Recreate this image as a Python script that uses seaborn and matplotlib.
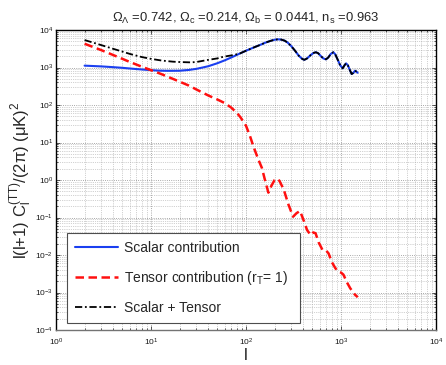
import numpy as np
import pandas as pd
import matplotlib
matplotlib.use('Agg')
import matplotlib.pyplot as plt
import seaborn as sns
from matplotlib.ticker import FixedLocator, NullFormatter

# valeurs : multipoles l et l(l+1)C_l/2pi en (muK)^2
scalar_l = [2, 3, 4, 5, 6, 8, 10, 12, 15, 20, 25, 30, 35, 40, 50, 60, 70, 87,
            100, 120, 140, 160, 180, 200, 217, 235, 255, 275, 300, 330, 360,
            390, 411, 440, 480, 515, 545, 575, 610, 650, 695, 735, 780, 830,
            870, 920, 980, 1042, 1090, 1130, 1180, 1240, 1295, 1350, 1403,
            1450, 1497]
scalar_cl = [1120, 1070, 1020, 980, 940, 885, 850, 825, 815, 820, 860, 920,
             1000, 1080, 1300, 1560, 1850, 2390, 2800, 3400, 3980, 4600, 5100,
             5500, 5650, 5550, 5200, 4600, 3700, 2750, 2050, 1700, 1600, 1750,
             2150, 2450, 2550, 2400, 2050, 1750, 1650, 1850, 2300, 2550, 2250,
             1650, 1150, 950, 1150, 1290, 1150, 850, 670, 720, 820, 780, 725]

tensor_l = [2, 3, 4, 5, 6, 8, 10, 13, 16, 20, 25, 30, 40, 50, 60, 70, 80, 87,
            100, 110, 120, 135, 147, 160, 172, 185, 200, 212, 225, 250, 280,
            313, 340, 370, 400, 440, 480, 510, 540, 580, 640, 700, 740, 800,
            870, 930, 1000, 1060, 1150, 1250, 1400, 1500]
tensor_cl = [4300, 2900, 2150, 1700, 1400, 1050, 850, 660, 530, 420, 330, 260,
             180, 140, 112, 85, 62, 48, 28, 15, 7.7, 3.5, 2.1, 0.9, 0.46, 0.7,
             1.0, 1.08, 0.95, 0.55, 0.22, 0.105, 0.13, 0.15, 0.09, 0.046,
             0.034, 0.04, 0.038, 0.022, 0.0135, 0.013, 0.011, 0.0065, 0.0045,
             0.0036, 0.0034, 0.003, 0.0019, 0.0013, 0.00088, 0.00075]

# somme : lue aux bas l, puis confondue avec la courbe scalaire
total_l_low = [2, 3, 4, 5, 6, 8, 10, 13, 17, 20, 26, 30, 39, 50, 58, 70, 80]
total_cl_low = [5400, 3950, 3150, 2650, 2300, 1900, 1700, 1530, 1430, 1400,
                1370, 1400, 1580, 1750, 1940, 2100, 2250]

x_decades = [0, 1, 2, 3, 4]
y_decades = [-4, -3, -2, -1, 0, 1, 2, 3, 4]

title_txt = (r'$\Omega_\Lambda$ =0.742, $\Omega_c$ =0.214, '
             r'$\Omega_b$ = 0.0441, n$_s$ =0.963')
labels = ['Scalar contribution', r'Tensor contribution (r$_T$= 1)',
          'Scalar + Tensor']

total_l = total_l_low + [l for l in scalar_l if l > 80]
total_cl = total_cl_low + [c for l, c in zip(scalar_l, scalar_cl) if l > 80]

sns.set_theme(style='white')
plt.rcParams['font.family'] = ['Liberation Sans', 'DejaVu Sans']
plt.rcParams['mathtext.fontset'] = 'custom'
plt.rcParams['mathtext.rm'] = 'Liberation Sans'
plt.rcParams['mathtext.it'] = 'Liberation Sans:italic'
plt.rcParams['mathtext.bf'] = 'Liberation Sans:bold'
plt.rcParams['mathtext.default'] = 'regular'

fig = plt.figure(figsize=(4.46, 3.65), dpi=100)
ax = fig.add_axes([56 / 446, 35 / 365, 380 / 446, 300 / 365])
ax.set_xscale('log')
ax.set_yscale('log')

sns.lineplot(x=scalar_l, y=scalar_cl, ax=ax, color='#1a3ff0', lw=1.5,
             label=labels[0], sort=False)
sns.lineplot(x=tensor_l, y=tensor_cl, ax=ax, color='#ff1010', lw=1.8,
             label=labels[1], sort=False)
sns.lineplot(x=total_l, y=total_cl, ax=ax, color='black', lw=1.3,
             label=labels[2], sort=False)
ax.lines[1].set_dashes((3.4, 1.8))
ax.lines[2].set_dashes((4, 1.5, 1, 1.5))

ax.set_xlim(1, 1e4)
ax.set_ylim(1e-4, 1e4)

# graduations fixes : une par decade, mineures 2..9 a l'interieur
for axis, dec in ((ax.xaxis, x_decades), (ax.yaxis, y_decades)):
    major = [10.0 ** d for d in dec]
    minor = [m * 10.0 ** d for d in dec[:-1] for m in range(2, 10)]
    axis.set_major_locator(FixedLocator(major))
    axis.set_minor_locator(FixedLocator(minor))
    axis.set_minor_formatter(NullFormatter())

ax.grid(True, which='major', ls=':', lw=0.6, color='0.55')
ax.grid(True, which='minor', ls=':', lw=0.5, color='0.65')
ax.tick_params(which='both', direction='in', top=True, right=True,
               bottom=True, left=True, colors='k', width=0.5)
ax.tick_params(which='major', length=3, labelsize=6)
ax.tick_params(which='minor', length=1.5)
ax.tick_params(axis='x', which='major', pad=5)
ax.tick_params(axis='y', which='major', pad=2)
for side in ['left', 'top', 'right']:
    ax.spines[side].set_color('black')
    ax.spines[side].set_linewidth(1.0)
ax.spines['bottom'].set_color('0.45')
ax.spines['bottom'].set_linewidth(1.0)

ax.set_title(title_txt, fontsize=9.4, pad=6)
ax.set_xlabel('l', fontsize=12)
ax.set_ylabel(r'l(l+1) C$_l^{(TT)}$/(2π) (μK)$^2$', fontsize=12)
ax.xaxis.set_label_coords(0.5, -0.06)
ax.yaxis.set_label_coords(-0.058, 0.5)

leg = ax.legend(loc='lower left', bbox_to_anchor=(0.029, 0.023, 0.613, 0.3),
                mode='expand', borderaxespad=0, fontsize=10, frameon=True,
                fancybox=False, handlelength=3.1, handletextpad=0.4,
                labelspacing=1.0, borderpad=0.6)
leg.get_frame().set_edgecolor('0.3')
leg.get_frame().set_linewidth(0.8)
leg.get_frame().set_alpha(1)

fig.savefig('out.png', dpi=100)
